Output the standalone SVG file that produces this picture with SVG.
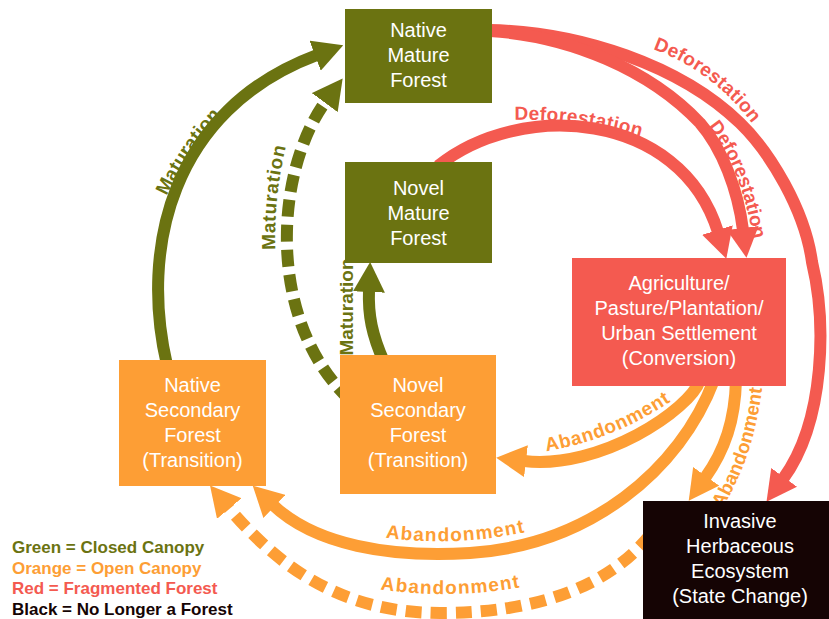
<svg xmlns="http://www.w3.org/2000/svg" width="829" height="619" viewBox="0 0 829 619">
<style>
.node text{font-family:"Liberation Sans",Arial,sans-serif;font-size:20px;fill:#ffffff;text-anchor:middle}
.band{fill:none;stroke-width:12}
.g{stroke:#6b7311}.o{stroke:#fd9e35}.r{stroke:#f45a50}
.lbl{font-family:"Liberation Sans",Arial,sans-serif;font-weight:bold;font-size:19px;text-anchor:middle}
.lg{fill:#6b7311}.lo{fill:#fd9e35}.lr{fill:#f45a50}
.legend{font-family:"Liberation Sans",Arial,sans-serif;font-weight:bold;font-size:17px}
</style>
<defs>
<marker id="ahg" markerUnits="userSpaceOnUse" viewBox="0 0 30 32" markerWidth="30" markerHeight="32" refX="2" refY="16" orient="auto"><path d="M0,0 L30,16 L0,32 z" fill="#6b7311"/></marker>
<marker id="aho" markerUnits="userSpaceOnUse" viewBox="0 0 30 32" markerWidth="30" markerHeight="32" refX="2" refY="16" orient="auto"><path d="M0,0 L30,16 L0,32 z" fill="#fd9e35"/></marker>
<marker id="ahr" markerUnits="userSpaceOnUse" viewBox="0 0 30 32" markerWidth="30" markerHeight="32" refX="2" refY="16" orient="auto"><path d="M0,0 L30,16 L0,32 z" fill="#f45a50"/></marker>
<path id="lp1" d="M160,210 Q190,143 232,105"/>
<path id="lp2" d="M276,262 Q272,195 289,135"/>
<path id="lp3" d="M510,120 Q578,118 645,138"/>
<path id="lp4" d="M650,48 Q713,70 754,126"/>
<path id="lp5" d="M707,125 Q740,164 754,241"/>
<path id="lp6" d="M540,452 Q612,442 676,398"/>
<path id="lp7" d="M723,507 Q753,458 762,390"/>
<path id="lp8" d="M380,537 Q455,548 530,531"/>
<path id="lp9" d="M378,589 Q450,600 522,587"/>
</defs>
<g id="connectors">
<path class="band g" d="M167,365 C140,250 170,110 317,55" marker-end="url(#ahg)"/>
<path class="band g" stroke-width="13" stroke-dasharray="17 8" d="M350,400 C265,320 275,170 326,101" marker-end="url(#ahg)"/>
<path class="band g" d="M384,362 C372,335 368,315 369,290" marker-end="url(#ahg)"/>
<path class="band r" stroke-width="13" d="M490,30 C580,32 680,65 740,123 C770,152 805,210 812,262 C826,320 826,420 783,479" marker-end="url(#ahr)"/>
<path class="band r" stroke-width="13" d="M490,31 C570,36 650,70 700,123 C722,148 738,190 743,230" marker-end="url(#ahr)"/>
<path class="band r" stroke-width="13" d="M438,166 C520,100 680,110 718,232" marker-end="url(#ahr)"/>
<path class="band o" d="M700,380 C690,410 600,470 524,461" marker-end="url(#aho)"/>
<path class="band o" d="M736,380 C735,420 725,450 705,478" marker-end="url(#aho)"/>
<path class="band o" d="M714,380 C680,470 590,545 470,553 C390,558 315,545 273,505" marker-end="url(#aho)"/>
<path class="band o" stroke-width="14" stroke-dasharray="16 9" d="M650,535 C610,585 540,613 440,613 C350,613 285,575 228,507" marker-end="url(#aho)"/>
<text class="lbl lg" textLength="98"><textPath href="#lp1" startOffset="50%">Maturation</textPath></text>
<text class="lbl lg" textLength="104"><textPath href="#lp2" startOffset="50%">Maturation</textPath></text>
<text class="lbl lg" font-size="14.5" transform="translate(353,307) rotate(-90)">Maturation</text>
<text class="lbl lr" textLength="128"><textPath href="#lp3" startOffset="50%">Deforestation</textPath></text>
<text class="lbl lr" textLength="126"><textPath href="#lp4" startOffset="50%">Deforestation</textPath></text>
<text class="lbl lr" font-size="16"><textPath href="#lp5" startOffset="50%">Deforestation</textPath></text>
<text class="lbl lo" textLength="135"><textPath href="#lp6" startOffset="50%">Abandonment</textPath></text>
<text class="lbl lo" font-size="14"><textPath href="#lp7" startOffset="50%">Abandonment</textPath></text>
<text class="lbl lo" textLength="140"><textPath href="#lp8" startOffset="50%">Abandonment</textPath></text>
<text class="lbl lo" textLength="140"><textPath href="#lp9" startOffset="50%">Abandonment</textPath></text>
</g>
<g id="native-mature" class="node">
<rect x="345" y="9" width="147" height="94" fill="#6b7311"/>
<text x="418.5" y="37">Native</text><text x="418.5" y="62">Mature</text><text x="418.5" y="87">Forest</text>
</g>
<g id="novel-mature" class="node">
<rect x="345" y="162" width="147" height="101" fill="#6b7311"/>
<text x="418.5" y="195">Novel</text><text x="418.5" y="220">Mature</text><text x="418.5" y="245">Forest</text>
</g>
<g id="native-secondary" class="node">
<rect x="119" y="360" width="147" height="126" fill="#fd9e35"/>
<text x="192.5" y="392">Native</text><text x="192.5" y="417">Secondary</text><text x="192.5" y="442">Forest</text><text x="192.5" y="467">(Transition)</text>
</g>
<g id="novel-secondary" class="node">
<rect x="340" y="355" width="156" height="139" fill="#fd9e35"/>
<text x="418" y="392">Novel</text><text x="418" y="417">Secondary</text><text x="418" y="442">Forest</text><text x="418" y="467">(Transition)</text>
</g>
<g id="conversion" class="node">
<rect x="572" y="258" width="214" height="128" fill="#f45a50"/>
<text x="679" y="290">Agriculture/</text><text x="679" y="315">Pasture/Plantation/</text><text x="679" y="340">Urban Settlement</text><text x="679" y="365">(Conversion)</text>
</g>
<g id="invasive" class="node">
<rect x="643" y="501" width="190" height="120" fill="#150404"/>
<text x="740" y="528">Invasive</text><text x="740" y="553">Herbaceous</text><text x="740" y="578">Ecosystem</text><text x="740" y="603">(State Change)</text>
</g>
<g id="legend" class="legend">
<text x="12" y="553" class="lg">Green = Closed Canopy</text>
<text x="12" y="573.5" class="lo">Orange = Open Canopy</text>
<text x="12" y="594" class="lr">Red = Fragmented Forest</text>
<text x="12" y="614.5" fill="#150404">Black = No Longer a Forest</text>
</g>
</svg>
